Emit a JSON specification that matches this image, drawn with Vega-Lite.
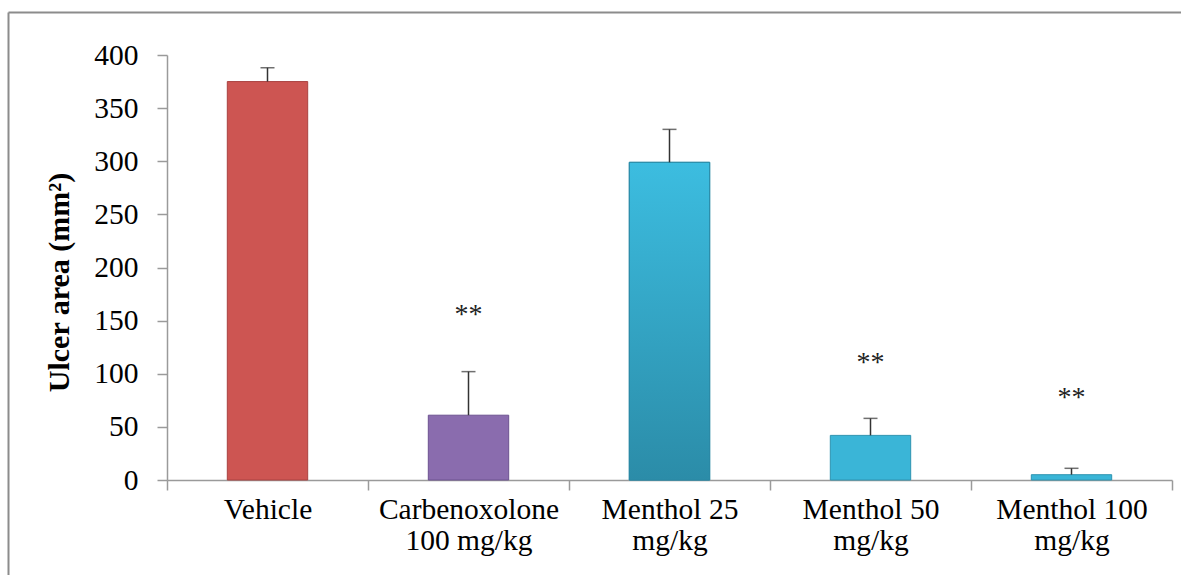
{
  "$schema": "https://vega.github.io/schema/vega-lite/v6.json",
  "autosize": {"type": "none"},
  "padding": {"left": 8, "top": 12, "right": 0, "bottom": 0},
  "width": 1173,
  "height": 563,
  "background": "white",
  "config": {
    "font": "Liberation Serif",
    "view": {"stroke": null}
  },
  "data": {
    "values": [
      {"group": "Vehicle", "mean": 375, "upper": 388},
      {"group": "Carbenoxolone\n100 mg/kg", "mean": 61, "upper": 102, "sig": "**", "sig_y": 158},
      {"group": "Menthol 25\nmg/kg", "mean": 299, "upper": 330},
      {"group": "Menthol 50\nmg/kg", "mean": 42, "upper": 58, "sig": "**", "sig_y": 113},
      {"group": "Menthol 100\nmg/kg", "mean": 5, "upper": 11, "sig": "**", "sig_y": 80}
    ]
  },
  "layer": [
    {
      "encoding": {
        "x": {
          "field": "group",
          "type": "nominal",
          "sort": null,
          "scale": {"range": [159, 1164], "paddingInner": 0, "paddingOuter": 0},
          "axis": {
            "orient": "bottom",
            "offset": -95,
            "title": null,
            "labelAngle": 0,
            "labelExpr": "datum.value ? split(datum.value, '\\n') : ''",
            "labelFont": "Liberation Serif",
            "labelFontSize": 29.5,
            "labelLineHeight": 31,
            "labelLimit": 400,
            "labelColor": "#000000",
            "labelPadding": 5,
            "tickBand": "extent",
            "tickSize": 10,
            "tickColor": "#9a9a9a",
            "tickWidth": 1.5,
            "domainColor": "#9a9a9a",
            "domainWidth": 1.5,
            "grid": false
          }
        }
      },
      "layer": [
        {
          "mark": {"type": "bar", "width": {"band": 0.4}, "strokeWidth": 1},
          "encoding": {
            "y": {
              "field": "mean",
              "type": "quantitative",
              "scale": {"domain": [0, 400], "range": [468, 43], "nice": false, "zero": true},
              "axis": {
                "orient": "left",
                "offset": -159,
                "values": [0, 50, 100, 150, 200, 250, 300, 350, 400],
                "title": "Ulcer area (mm²)",
                "titleFont": "Liberation Serif",
                "titleFontSize": 30,
                "titleFontWeight": "bold",
                "titleColor": "#000000",
                "titlePadding": 19,
                "titleY": 270,
                "labelFont": "Liberation Serif",
                "labelFontSize": 29.5,
                "labelColor": "#000000",
                "labelPadding": 19,
                "tickSize": 10,
                "tickColor": "#9a9a9a",
                "tickWidth": 1.5,
                "domainColor": "#9a9a9a",
                "domainWidth": 1.5,
                "grid": false
              }
            },
            "color": {
              "field": "group",
              "type": "nominal",
              "sort": null,
              "legend": null,
              "scale": {"range": ["#cd5552", "#8a6cae", "#34a8cb", "#3ab5d7", "#3ab5d7"]}
            },
            "stroke": {
              "field": "group",
              "type": "nominal",
              "sort": null,
              "legend": null,
              "scale": {"range": ["#a94240", "#6c5290", "#2a88a4", "#2e93b0", "#2e93b0"]}
            }
          }
        },
        {
          "transform": [{"filter": "datum.group == 'Menthol 25\\nmg/kg'"}],
          "mark": {
            "type": "bar",
            "width": {"band": 0.4},
            "stroke": "#2a88a4",
            "strokeWidth": 1,
            "color": {
              "gradient": "linear",
              "x1": 0, "y1": 0, "x2": 0, "y2": 1,
              "stops": [
                {"offset": 0, "color": "#3cbde0"},
                {"offset": 1, "color": "#2b8ca8"}
              ]
            }
          },
          "encoding": {
            "y": {"field": "mean", "type": "quantitative"}
          }
        },
        {
          "mark": {"type": "rule", "color": "#333333", "strokeWidth": 1.5},
          "encoding": {
            "y": {"field": "mean", "type": "quantitative"},
            "y2": {"field": "upper"}
          }
        },
        {
          "mark": {"type": "tick", "color": "#333333", "size": 14, "thickness": 1.5},
          "encoding": {
            "y": {"field": "upper", "type": "quantitative"}
          }
        },
        {
          "transform": [{"filter": "datum.sig"}],
          "mark": {"type": "text", "font": "Liberation Serif", "fontSize": 28, "color": "#222222", "baseline": "middle", "dy": 3},
          "encoding": {
            "y": {"field": "sig_y", "type": "quantitative"},
            "text": {"field": "sig"}
          }
        }
      ]
    },
    {
      "mark": {"type": "point", "opacity": 0},
      "encoding": {
        "x": {
          "field": "upper",
          "type": "quantitative",
          "axis": {"orient": "top", "title": null, "labels": false, "ticks": false, "grid": false, "domain": true, "domainColor": "#8c8c8c", "domainWidth": 2}
        },
        "y": {
          "field": "upper",
          "type": "quantitative",
          "axis": {"orient": "left", "title": null, "labels": false, "ticks": false, "grid": false, "domain": true, "domainColor": "#8c8c8c", "domainWidth": 2}
        }
      }
    }
  ],
  "resolve": {
    "scale": {"x": "independent", "y": "independent"},
    "axis": {"x": "independent", "y": "independent"}
  }
}
